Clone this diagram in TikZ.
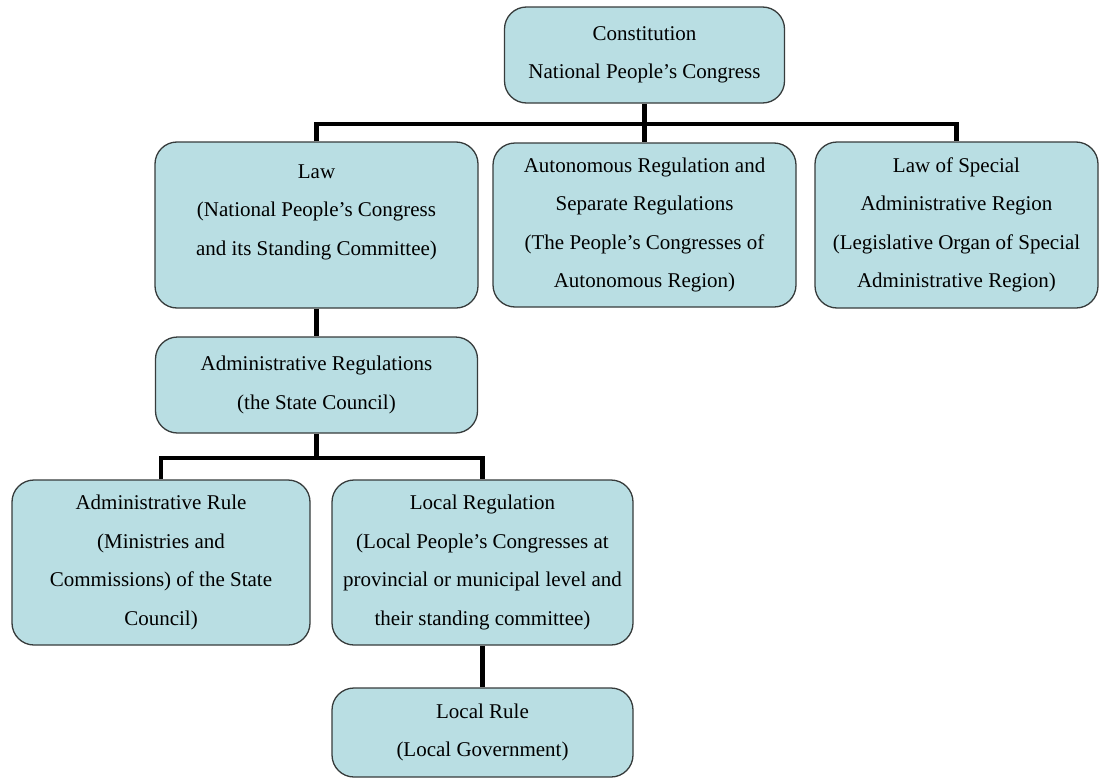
\documentclass[tikz,border=0pt]{standalone}
\usepackage{fontspec}
\setmainfont{Liberation Serif}
\usepackage{xcolor}
\definecolor{boxfill}{RGB}{185,222,227}
\definecolor{boxline}{RGB}{55,60,60}

\begin{document}
\begin{tikzpicture}[x=1pt,y=-1pt,
    lawbox/.style={draw=boxline,line width=1.3pt,fill=boxfill,rounded corners=22pt,
      align=center,inner sep=0pt,font=\fontsize{21}{38.5}\selectfont},
    link/.style={line width=4.8pt,black}]
             \useasboundingbox[fill=white] (0,0) rectangle (1103,779);

             \node[lawbox,minimum width=280pt,minimum height=96pt] (const) at (644.5,55)
               {Constitution\\National People's Congress};

             \node[lawbox,minimum width=323pt,minimum height=166pt,text depth=30pt] (law) at (316.5,225)
               {Law\\(National People's Congress\\and its Standing Committee)};
             \node[lawbox,minimum width=303pt,minimum height=164pt] (auto) at (644.5,225)
               {Autonomous Regulation and\\Separate Regulations\\(The People's Congresses of\\Autonomous Region)};
             \node[lawbox,minimum width=283pt,minimum height=166pt] (sar) at (956.5,225)
               {Law of Special\\Administrative Region\\(Legislative Organ of Special\\Administrative Region)};

             \node[lawbox,minimum width=322pt,minimum height=96pt] (adminreg) at (316.5,385)
               {Administrative Regulations\\(the State Council)};

             \node[lawbox,minimum width=298pt,minimum height=165pt] (adminrule) at (161,562.5)
               {Administrative Rule\\(Ministries and\\Commissions) of the State\\Council)};
             \node[lawbox,minimum width=301pt,minimum height=165pt] (localreg) at (482.5,562.5)
               {Local Regulation\\(Local People's Congresses at\\provincial or municipal level and\\their standing committee)};

             \node[lawbox,minimum width=301pt,minimum height=89pt] (localrule) at (482.5,732.5)
               {Local Rule\\(Local Government)};

             \coordinate (bus1) at (644.5,124);
             \coordinate (bus2) at (316.5,458);

             \draw[link] (const.south) -- (auto.north);
             \draw[link] (law.north) |- (bus1) -| (sar.north);
             \draw[link] (law.south) -- (adminreg.north);
             \draw[link] (adminreg.south) -- (bus2);
             \draw[link] (adminrule.north) |- (bus2) -| (localreg.north);
             \draw[link] (localreg.south) -- (localrule.north);
\end{tikzpicture}
\end{document}
